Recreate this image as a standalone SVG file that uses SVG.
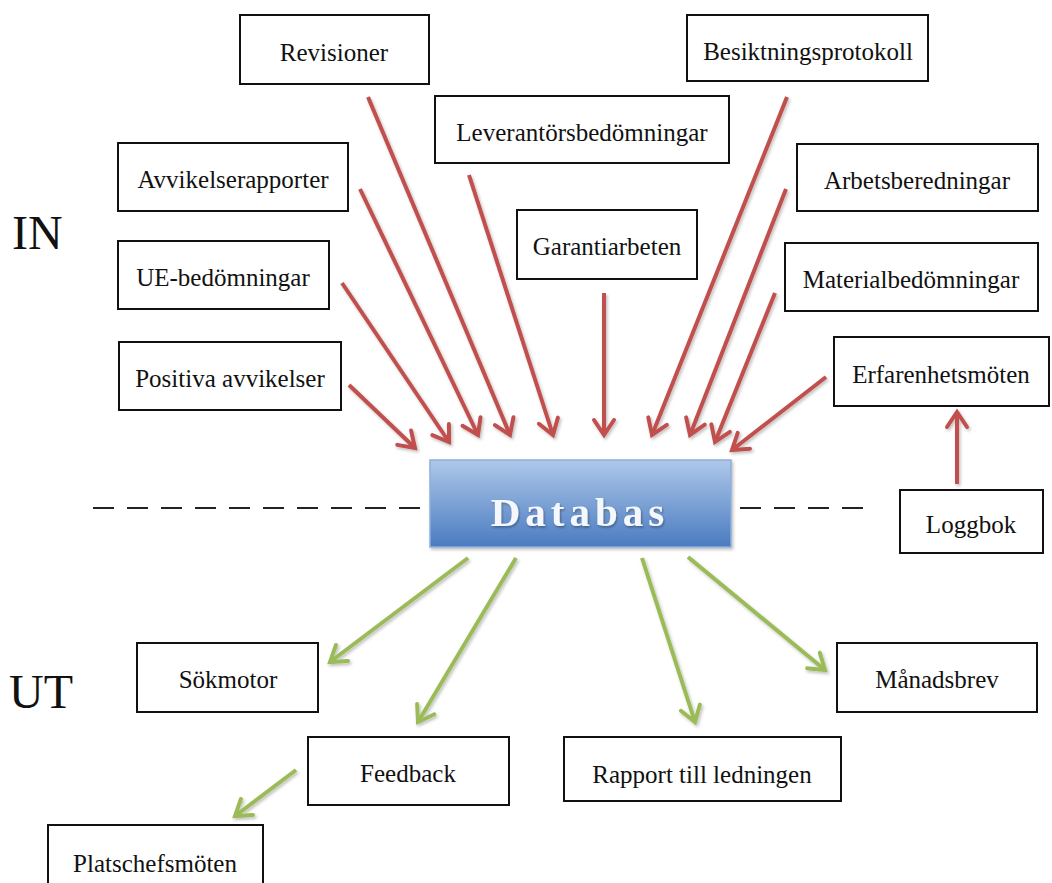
<svg xmlns="http://www.w3.org/2000/svg" width="1052" height="883" viewBox="0 0 1052 883">
<style>
.box{fill:#fff;stroke:#111;stroke-width:2}
.lbl{font-family:"Liberation Serif","Times New Roman",serif;font-size:25px;fill:#111;text-anchor:middle}
.big{font-family:"Liberation Serif","Times New Roman",serif;font-size:48px;fill:#111}
.red{stroke:#c0504d;stroke-width:4;fill:none;marker-end:url(#ar)}
.green{stroke:#9bbb59;stroke-width:4;fill:none;marker-end:url(#ag)}
.dash{stroke:#222;stroke-width:2;stroke-dasharray:21 13;fill:none}
</style>
<defs>
<marker id="ar" markerUnits="userSpaceOnUse" markerWidth="30" markerHeight="30" viewBox="-20 -15 24 30" refX="0" refY="0" orient="auto">
<path d="M-15,-10 L0,0 L-15,10" fill="none" stroke="#c0504d" stroke-width="4" stroke-linecap="round"/>
</marker>
<marker id="ag" markerUnits="userSpaceOnUse" markerWidth="30" markerHeight="30" viewBox="-20 -15 24 30" refX="0" refY="0" orient="auto">
<path d="M-15,-10 L0,0 L-15,10" fill="none" stroke="#9bbb59" stroke-width="4" stroke-linecap="round"/>
</marker>
<linearGradient id="db" x1="0" y1="0" x2="0" y2="1">
<stop offset="0" stop-color="#aec8ea"/>
<stop offset="1" stop-color="#4a7bc0"/>
</linearGradient>
<filter id="sh" filterUnits="userSpaceOnUse" x="0" y="0" width="1052" height="883">
<feDropShadow dx="1.5" dy="2" stdDeviation="1.5" flood-color="#000" flood-opacity="0.25"/>
</filter>
<filter id="ts" x="-10%" y="-20%" width="120%" height="140%">
<feDropShadow dx="1" dy="1.5" stdDeviation="1" flood-color="#000" flood-opacity="0.35"/>
</filter>
</defs>

<text class="big" x="12" y="249">IN</text>
<text class="big" x="9" y="708">UT</text>

<g id="dashes">
<line class="dash" x1="93" y1="508" x2="425" y2="508"/>
<line class="dash" x1="740" y1="508" x2="866" y2="508"/>
</g>

<g id="connectors" filter="url(#sh)">
<line class="red" x1="368" y1="97" x2="510" y2="435"/>
<line class="red" x1="469" y1="175" x2="553" y2="435"/>
<line class="red" x1="360" y1="189" x2="478" y2="435"/>
<line class="red" x1="342" y1="283" x2="449" y2="442"/>
<line class="red" x1="349" y1="385" x2="415" y2="448"/>
<line class="red" x1="604" y1="293" x2="604" y2="435"/>
<line class="red" x1="787" y1="97" x2="652" y2="435"/>
<line class="red" x1="786" y1="189" x2="690" y2="435"/>
<line class="red" x1="775" y1="293" x2="715" y2="442"/>
<line class="red" x1="826" y1="377" x2="732" y2="450"/>
<line class="red" x1="957" y1="484" x2="957" y2="412"/>
<line class="green" x1="468" y1="558" x2="330" y2="662"/>
<line class="green" x1="516" y1="558" x2="418" y2="722"/>
<line class="green" x1="296" y1="770" x2="235" y2="816"/>
<line class="green" x1="642" y1="558" x2="695" y2="722"/>
<line class="green" x1="688" y1="557" x2="825" y2="670"/>
</g>

<g id="databas">
<rect x="430" y="460" width="301" height="87" fill="url(#db)" stroke="#8eaedb" stroke-width="1.5" filter="url(#sh)"/>
<text x="580" y="526" font-family="'Liberation Serif','Times New Roman',serif" font-size="41" font-weight="bold" letter-spacing="5" fill="#f4f7fb" text-anchor="middle" filter="url(#ts)">Databas</text>
</g>

<g id="revisioner"><rect class="box" x="240" y="15" width="189" height="69"/><text class="lbl" x="334" y="61">Revisioner</text></g>
<g id="leverantorsbedomningar"><rect class="box" x="435" y="96" width="294" height="67"/><text class="lbl" x="582" y="141">Leverantörsbedömningar</text></g>
<g id="besiktningsprotokoll"><rect class="box" x="687" y="15" width="241" height="66"/><text class="lbl" x="808" y="60">Besiktningsprotokoll</text></g>
<g id="arbetsberedningar"><rect class="box" x="797" y="144" width="241" height="67"/><text class="lbl" x="917" y="189">Arbetsberedningar</text></g>
<g id="avvikelserapporter"><rect class="box" x="118" y="143" width="230" height="68"/><text class="lbl" x="233" y="188">Avvikelserapporter</text></g>
<g id="ue-bedomningar"><rect class="box" x="118" y="241" width="211" height="68"/><text class="lbl" x="223" y="286">UE-bedömningar</text></g>
<g id="positiva-avvikelser"><rect class="box" x="119" y="342" width="222" height="68"/><text class="lbl" x="230" y="387">Positiva avvikelser</text></g>
<g id="garantiarbeten"><rect class="box" x="517" y="210" width="180" height="69"/><text class="lbl" x="607" y="255">Garantiarbeten</text></g>
<g id="materialbedomningar"><rect class="box" x="785" y="243" width="253" height="68"/><text class="lbl" x="911" y="288">Materialbedömningar</text></g>
<g id="erfarenhetsmoten"><rect class="box" x="834" y="337" width="215" height="69"/><text class="lbl" x="941" y="383">Erfarenhetsmöten</text></g>
<g id="loggbok"><rect class="box" x="900" y="490" width="143" height="63"/><text class="lbl" x="971" y="533">Loggbok</text></g>
<g id="sokmotor"><rect class="box" x="137" y="643" width="181" height="69"/><text class="lbl" x="228" y="688">Sökmotor</text></g>
<g id="manadsbrev"><rect class="box" x="837" y="643" width="200" height="69"/><text class="lbl" x="937" y="688">Månadsbrev</text></g>
<g id="feedback"><rect class="box" x="308" y="737" width="201" height="68"/><text class="lbl" x="408" y="782">Feedback</text></g>
<g id="rapport-till-ledningen"><rect class="box" x="564" y="737" width="277" height="64"/><text class="lbl" x="702" y="783">Rapport till ledningen</text></g>
<g id="platschefsmoten"><rect class="box" x="48" y="825" width="215" height="70"/><text class="lbl" x="155" y="872">Platschefsmöten</text></g>
</svg>
